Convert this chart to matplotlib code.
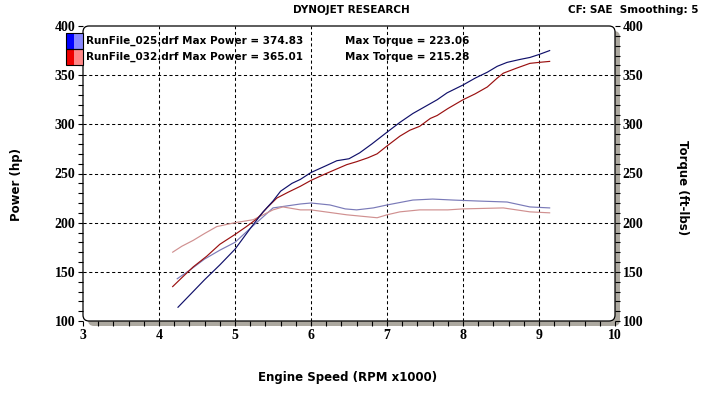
import matplotlib
matplotlib.use("Agg")
import matplotlib.pyplot as plt
import matplotlib.patches as mpatches
import matplotlib.transforms as mtransforms
from matplotlib.ticker import MultipleLocator

# run 025 (blue)
rpm_025_hp = [4.25, 4.4, 4.6, 4.8, 5.0, 5.2, 5.37, 5.5, 5.6, 5.75, 5.86, 6.0, 6.2, 6.34, 6.5,
              6.64, 6.8, 7.0, 7.17, 7.34, 7.5, 7.66, 7.79, 8.0, 8.16, 8.32, 8.45, 8.58, 8.75,
              8.88, 9.0, 9.14]
hp_025 = [114, 126, 142, 157, 173, 194, 211, 222, 232, 240, 244, 251, 258, 263, 265,
          271, 280, 292, 302, 311, 318, 325, 332, 340, 347, 353, 359, 363, 366,
          368, 371, 375]
rpm_025_tq = [4.24, 4.41, 4.6, 4.8, 5.0, 5.24, 5.4, 5.5, 5.59, 5.86, 6.0, 6.25, 6.45, 6.6,
              6.82, 7.0, 7.34, 7.6, 7.87, 8.2, 8.58, 8.88, 9.14]
tq_025 = [143, 152, 163, 172, 180, 197, 208, 215, 216, 219, 220, 218, 214, 213,
          215, 218, 223, 224, 223, 222, 221, 216, 215]

# run 032 (red)
rpm_032_hp = [4.18, 4.3, 4.45, 4.63, 4.8, 5.0, 5.15, 5.29, 5.42, 5.55, 5.7, 5.86, 6.0, 6.2,
              6.35, 6.47, 6.6, 6.75, 6.87, 7.0, 7.17, 7.3, 7.43, 7.57, 7.66, 7.8, 8.0, 8.16,
              8.32, 8.45, 8.53, 8.7, 8.88, 9.0, 9.14]
hp_032 = [135, 144, 155, 166, 178, 188, 196, 204, 215, 225, 231, 237, 243, 250,
          255, 259, 262, 266, 270, 278, 288, 294, 298, 306, 309, 316, 325, 331,
          338, 347, 352, 357, 362, 363, 364]
rpm_032_tq = [4.18, 4.3, 4.45, 4.6, 4.76, 5.0, 5.24, 5.5, 5.63, 5.86, 6.0, 6.47, 6.87, 7.0,
              7.17, 7.43, 7.8, 8.0, 8.53, 8.88, 9.14]
tq_032 = [170, 176, 182, 189, 196, 200, 203, 213, 216, 213, 213, 208, 205, 208,
          211, 213, 213, 214, 215, 211, 210]

x_ticks = [3, 4, 5, 6, 7, 8, 9, 10]
y_ticks = [100, 150, 200, 250, 300, 350, 400]

legend_lines = [("RunFile_025.drf Max Power = 374.83", "Max Torque = 223.06"),
                ("RunFile_032.drf Max Power = 365.01", "Max Torque = 215.28")]

W, H = 702, 393
fig = plt.figure(figsize=(W / 100, H / 100), dpi=100)
fig.patch.set_facecolor("white")

L, R, T, B = 83, 615, 26, 321
ax = fig.add_axes([L / W, 1 - B / H, (R - L) / W, (B - T) / H])
ax.patch.set_visible(False)
for s in ax.spines.values():
    s.set_visible(False)

ident = mtransforms.IdentityTransform()
# shadow + box, in pixels (origin bottom-left)
shadow = mpatches.FancyBboxPatch((L + 5, H - B - 5), R - L, B - T,
                                 boxstyle="round,pad=0,rounding_size=6",
                                 transform=ident, facecolor="#aca89f", edgecolor="none",
                                 zorder=-3)
box = mpatches.FancyBboxPatch((L, H - B), R - L, B - T,
                              boxstyle="round,pad=0,rounding_size=6",
                              transform=ident, facecolor="white", edgecolor="none",
                              zorder=-2)
frame = mpatches.FancyBboxPatch((L, H - B), R - L, B - T,
                                boxstyle="round,pad=0,rounding_size=6",
                                transform=ident, facecolor="none", edgecolor="black",
                                linewidth=0.9, zorder=5)
fig.patches.extend([shadow, box, frame])

ax.set_xlim(3, 10)
ax.set_ylim(100, 400)

for xv in x_ticks[1:-1]:
    ax.axvline(xv, color="black", lw=0.75, dashes=(3, 2.5), zorder=1)
for yv in y_ticks[1:-1]:
    ax.axhline(yv, color="black", lw=0.75, dashes=(3, 2.5), zorder=1)

ax.plot(rpm_025_tq, tq_025, color="#7a7ab8", lw=0.85, zorder=3)
ax.plot(rpm_032_tq, tq_032, color="#d09090", lw=0.85, zorder=3)
ax.plot(rpm_032_hp, hp_032, color="#9a1010", lw=0.85, zorder=4)
ax.plot(rpm_025_hp, hp_025, color="#10106a", lw=0.85, zorder=4)

ax.set_xticks(x_ticks)
ax.set_yticks(y_ticks)
ax.xaxis.set_minor_locator(MultipleLocator(0.2))
ax.yaxis.set_minor_locator(MultipleLocator(10))
ax.tick_params(which="both", direction="out", length=3.5, width=0.8, color="black",
               left=True, right=True, bottom=True, top=False,
               labelleft=True, labelright=True, labelbottom=True)
ax.tick_params(axis="x", which="major", pad=2)
ax.tick_params(axis="y", which="major", pad=2)
for t in ax.xaxis.get_majorticklabels() + ax.yaxis.get_majorticklabels():
    t.set_fontfamily("Liberation Serif")
    t.set_fontweight("bold")
    t.set_fontsize(10)


def px(x, y):
    return x / W, 1 - y / H


sans = dict(fontfamily="DejaVu Sans", fontweight="bold")

fig.text(*px(351, 10), "DYNOJET RESEARCH", ha="center", va="center", fontsize=7.5, **sans)
fig.text(*px(698, 10), "CF: SAE  Smoothing: 5", ha="right", va="center", fontsize=7.5, **sans)

fig.text(*px(17, 185), "Power (hp)", rotation=90, ha="center", va="center", fontsize=8.5, **sans)
fig.text(*px(683, 188), "Torque (ft-lbs)", rotation=270, ha="center", va="center",
         fontsize=8.5, **sans)
fig.text(*px(348, 377), "Engine Speed (RPM x1000)", ha="center", va="center",
         fontsize=8.5, **sans)

# legend swatches
swatch_cols = [("#0000ff", "#8888ff"), ("#ee0000", "#ff8888")]
for i, (c1, c2) in enumerate(swatch_cols):
    y_top = 33 + i * 16
    fig.patches.append(mpatches.Rectangle((66, H - y_top - 16), 8, 16, transform=ident,
                                          facecolor=c1, edgecolor="none", zorder=6))
    fig.patches.append(mpatches.Rectangle((74, H - y_top - 16), 9, 16, transform=ident,
                                          facecolor=c2, edgecolor="none", zorder=6))
    fig.patches.append(mpatches.Rectangle((66, H - y_top - 16), 17, 16, transform=ident,
                                          facecolor="none", edgecolor="black", lw=0.8,
                                          zorder=7))
    left, right = legend_lines[i]
    fig.text(*px(86, y_top + 8), left, ha="left", va="center", fontsize=7.5, zorder=8, **sans)
    fig.text(*px(345, y_top + 8), right, ha="left", va="center", fontsize=7.5, zorder=8, **sans)

fig.savefig("out.png", dpi=100)
